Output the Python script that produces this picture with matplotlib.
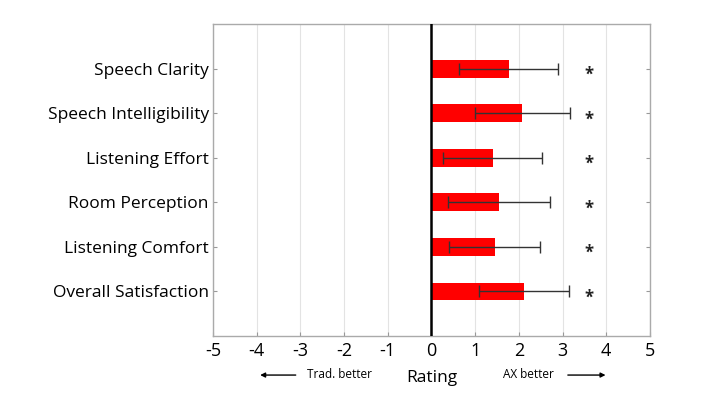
import numpy as np
import matplotlib.pyplot as plt
from matplotlib.patches import FancyArrowPatch

plt.rcParams["font.family"] = ["Open Sans", "DejaVu Sans"]

categories = ["Speech Clarity", "Speech Intelligibility", "Listening Effort",
              "Room Perception", "Listening Comfort", "Overall Satisfaction"]
means = [1.77, 2.08, 1.40, 1.54, 1.45, 2.12]
errors = [1.13, 1.08, 1.13, 1.17, 1.04, 1.03]
significant = [True, True, True, True, True, True]
xticks = [-5, -4, -3, -2, -1, 0, 1, 2, 3, 4, 5]

fig = plt.figure(figsize=(7.09, 3.99), dpi=100)
ax = fig.add_axes([0.3004, 0.1579, 0.6164, 0.7819])

ypos = np.arange(1, len(categories) + 1)

# Grid first so bars sit on top.
for t in xticks:
    ax.axvline(t, color="#e3e3e3", linewidth=0.8, zorder=0)
ax.axvline(0, color="black", linewidth=1.8, zorder=3)

ax.barh(ypos, means, height=0.4, color="#ff0000", zorder=2)
ax.errorbar(means, ypos, xerr=errors, fmt="none", ecolor="#333333",
            elinewidth=1.0, capsize=4, capthick=1.0, zorder=4)

for y, sig in zip(ypos, significant):
    if sig:
        ax.text(3.6, y + 0.14, "*", fontsize=12, ha="center", va="center",
                fontweight="bold", color="#222222")

ax.set_xlim(-5, 5)
ax.set_ylim(7, 0)
ax.set_xticks(xticks)
ax.set_xticklabels([str(t) for t in xticks], fontsize=13)
ax.set_yticks(ypos)
ax.set_yticklabels(categories, fontsize=12.5)

ax.tick_params(axis="y", direction="in", length=3, color="#999999",
               right=True, pad=3)
ax.tick_params(axis="x", direction="in", length=3, color="#999999", pad=4)
for s in ax.spines.values():
    s.set_color("#aaaaaa")
    s.set_linewidth(1.0)

# Labels under the axis.
fig.text(0.609, 0.052, "Rating", fontsize=12.5, ha="center", va="center")
fig.text(0.433, 0.062, "Trad. better", fontsize=8.5, ha="left", va="center")
fig.text(0.709, 0.062, "AX better", fontsize=8.5, ha="left", va="center")
fig.patches.append(FancyArrowPatch(
    (0.421, 0.060), (0.363, 0.060), transform=fig.transFigure,
    arrowstyle="-|>", mutation_scale=7, color="black", linewidth=1.0))
fig.patches.append(FancyArrowPatch(
    (0.797, 0.060), (0.858, 0.060), transform=fig.transFigure,
    arrowstyle="-|>", mutation_scale=7, color="black", linewidth=1.0))

fig.savefig("out.png", dpi=100)
